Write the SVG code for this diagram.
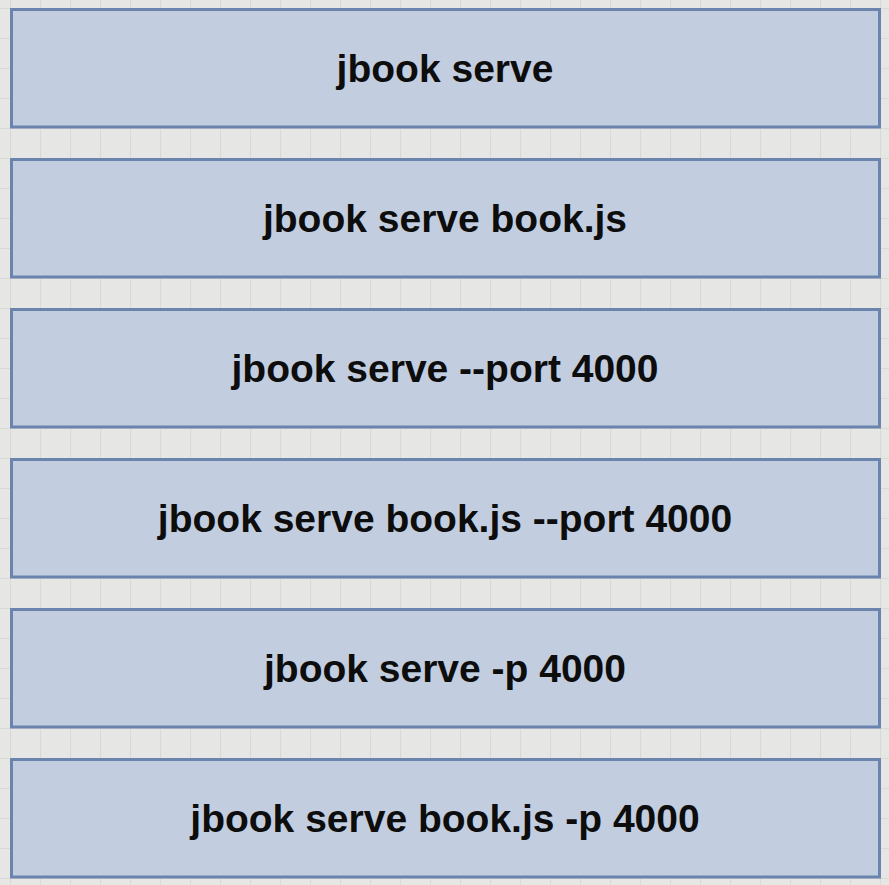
<svg xmlns="http://www.w3.org/2000/svg" width="889" height="885" viewBox="0 0 889 885">
  <defs>
    <pattern id="grid" x="10" y="8" width="30" height="30" patternUnits="userSpaceOnUse">
      <path d="M 0.5 0 L 0.5 30 M 0 0.5 L 30 0.5" fill="none" stroke="#d9d9d6" stroke-width="1.2"/>
    </pattern>
    <style>
      .box { fill: #c2cde0; stroke: #6a84ae; stroke-width: 3; }
      .lbl { font-family: "Liberation Sans", Arial, Helvetica, sans-serif; font-weight: bold; font-size: 39px; fill: #0d0d0d; text-anchor: middle; }
    </style>
  </defs>
  <rect x="0" y="0" width="889" height="885" fill="#e6e6e4"/>
  <rect x="0" y="0" width="889" height="885" fill="url(#grid)"/>
  <g id="connectors"></g>
  <g id="node1">
    <rect class="box" x="11.5" y="9.5" width="868" height="117.5"/>
    <text class="lbl" x="445" y="82">jbook serve</text>
  </g>
  <g id="node2">
    <rect class="box" x="11.5" y="159.5" width="868" height="117.5"/>
    <text class="lbl" x="445" y="232">jbook serve book.js</text>
  </g>
  <g id="node3">
    <rect class="box" x="11.5" y="309.5" width="868" height="117.5"/>
    <text class="lbl" x="445" y="382">jbook serve --port 4000</text>
  </g>
  <g id="node4">
    <rect class="box" x="11.5" y="459.5" width="868" height="117.5"/>
    <text class="lbl" x="445" y="532">jbook serve book.js --port 4000</text>
  </g>
  <g id="node5">
    <rect class="box" x="11.5" y="609.5" width="868" height="117.5"/>
    <text class="lbl" x="445" y="682">jbook serve -p 4000</text>
  </g>
  <g id="node6">
    <rect class="box" x="11.5" y="759.5" width="868" height="117.5"/>
    <text class="lbl" x="445" y="832">jbook serve book.js -p 4000</text>
  </g>
</svg>
